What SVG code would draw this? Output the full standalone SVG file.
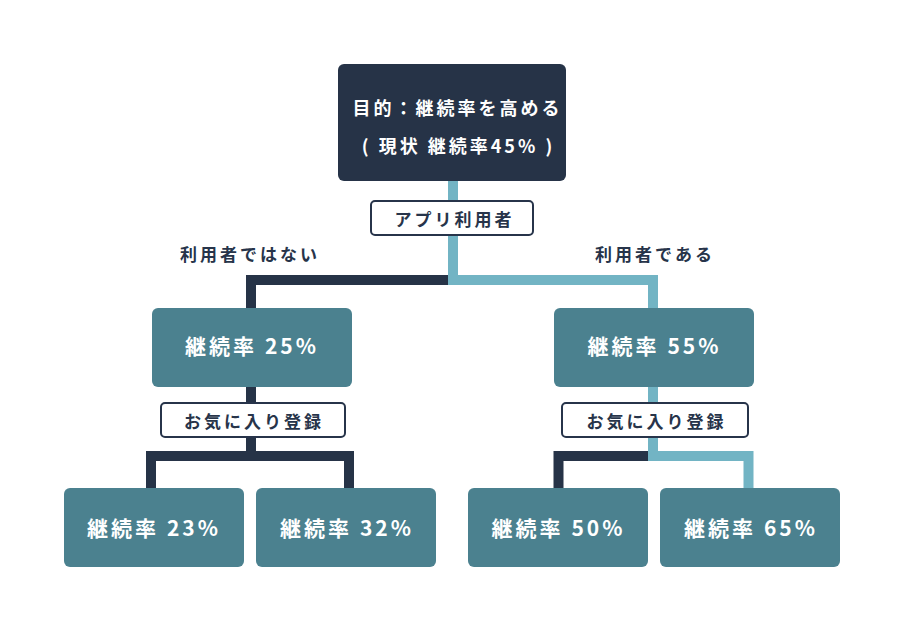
<svg xmlns="http://www.w3.org/2000/svg" width="904" height="632" viewBox="0 0 904 632">
<style>
.t{font-family:"Noto Sans CJK JP","Noto Sans",sans-serif;font-weight:700;text-anchor:middle}
.w{fill:#ffffff}
.d{fill:#27344a}
.top{fill:#263347}
.node{fill:#4b818f}
.lbl{fill:#ffffff;stroke:#27344a;stroke-width:2}
.cd{fill:none;stroke:#263347;stroke-width:10;stroke-linejoin:miter;stroke-linecap:butt}
.cl{fill:none;stroke:#72b4c4;stroke-width:10;stroke-linejoin:miter;stroke-linecap:butt}
</style>
<rect width="904" height="632" fill="#ffffff"/>
<g id="connectors">
<path class="cd" d="M448 280 H251 V309"/>
<path class="cl" d="M453 181 V280 H653 V309"/>
<path class="cd" d="M251 386 V404 M251 436 V456 M151 488 V456 H349 V488"/>
<path class="cd" d="M649 456 H558.5 V488"/>
<path class="cl" d="M653 386 V404 M653 436 V456 H748.5 V488"/>
</g>
<g id="goal">
<rect class="top" x="338" y="64" width="228" height="117" rx="6"/>
<text class="t w" x="457.5" y="115" font-size="18" letter-spacing="3">目的：継続率を高める</text>
<text class="t w" x="458.5" y="153" font-size="18" letter-spacing="3">( 現状 継続率45% )</text>
</g>
<g id="label-app">
<rect class="lbl" x="371" y="201" width="162" height="34" rx="4"/>
<text class="t d" x="454.5" y="226" font-size="17" letter-spacing="3">アプリ利用者</text>
</g>
<g id="branch-no">
<text class="t d" x="250" y="261" font-size="17" letter-spacing="3">利用者ではない</text>
</g>
<g id="branch-yes">
<text class="t d" x="655" y="261" font-size="17" letter-spacing="3">利用者である</text>
</g>
<g id="node-25">
<rect class="node" x="152" y="308" width="200" height="79" rx="6"/>
<text class="t w" x="252" y="354" font-size="21" letter-spacing="3">継続率 25%</text>
</g>
<g id="node-55">
<rect class="node" x="554" y="308" width="200" height="79" rx="6"/>
<text class="t w" x="654.5" y="354" font-size="21" letter-spacing="3">継続率 55%</text>
</g>
<g id="label-fav-left">
<rect class="lbl" x="161" y="403" width="184" height="34" rx="4"/>
<text class="t d" x="254" y="428" font-size="17" letter-spacing="3">お気に入り登録</text>
</g>
<g id="label-fav-right">
<rect class="lbl" x="562" y="403" width="186" height="34" rx="4"/>
<text class="t d" x="656.5" y="428" font-size="17" letter-spacing="3">お気に入り登録</text>
</g>
<g id="node-23">
<rect class="node" x="64" y="488" width="180" height="79" rx="6"/>
<text class="t w" x="154" y="536" font-size="21" letter-spacing="3">継続率 23%</text>
</g>
<g id="node-32">
<rect class="node" x="256" y="488" width="180" height="79" rx="6"/>
<text class="t w" x="347" y="536" font-size="21" letter-spacing="3">継続率 32%</text>
</g>
<g id="node-50">
<rect class="node" x="468" y="488" width="180" height="79" rx="6"/>
<text class="t w" x="558.5" y="536" font-size="21" letter-spacing="3">継続率 50%</text>
</g>
<g id="node-65">
<rect class="node" x="660" y="488" width="180" height="79" rx="6"/>
<text class="t w" x="751" y="536" font-size="21" letter-spacing="3">継続率 65%</text>
</g>
</svg>
